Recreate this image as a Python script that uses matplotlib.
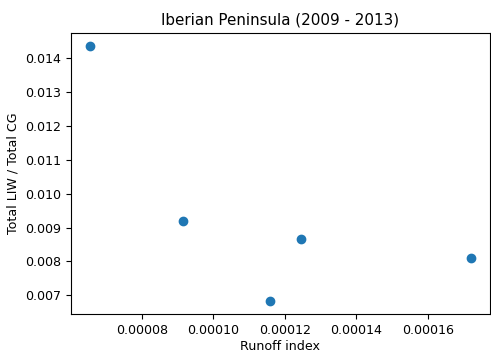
import matplotlib
matplotlib.use("Agg")
import matplotlib.pyplot as plt

# Runoff index vs ratio, Iberian Peninsula
runoff_index = [0.0000655, 0.0000914, 0.0001157, 0.0001246, 0.0001720]
liw_cg_ratio = [0.014364, 0.009187, 0.006826, 0.008650, 0.008104]

plt.rcParams['font.size'] = 9.1

fig = plt.figure(figsize=(4.91, 3.51), dpi=100)
ax = fig.add_axes([0.1446, 0.1054, 0.853, 0.8006])

ax.scatter(runoff_index, liw_cg_ratio, color='#1f77b4')

ax.set_xlabel('Runoff index', labelpad=2)
ax.set_ylabel('Total LIW / Total CG')
ax.set_title('Iberian Peninsula (2009 - 2013)')

fig.savefig('out.png', dpi=100)
